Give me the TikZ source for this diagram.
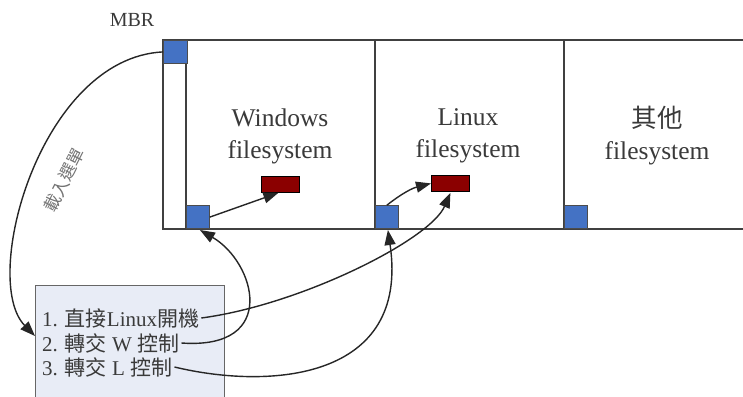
\documentclass[tikz,border=0pt]{standalone}
\usepackage{fontspec}
\setmainfont{Liberation Serif}
\newfontfamily\cjk{Noto Sans CJK TC}
\usetikzlibrary{arrows.meta,calc}
\definecolor{sqblue}{HTML}{4472C4}
\definecolor{sqred}{HTML}{8B0000}
\definecolor{menufill}{HTML}{E8ECF6}
\definecolor{txtgray}{HTML}{3A3A3A}
\begin{document}
\begin{tikzpicture}[x=1pt,y=-1pt,
  part/.style={draw=black!75, line width=2.2pt},
  bsq/.style={draw=black!70, fill=sqblue, line width=0.8pt, minimum width=23pt, minimum height=23pt, inner sep=0pt},
  rbox/.style={draw=black, fill=sqred, line width=0.8pt, minimum width=38pt, minimum height=16pt, inner sep=0pt},
  fslabel/.style={align=center, text=txtgray, font=\fontsize{25.5}{32}\selectfont, inner sep=0pt},
  menuline/.style={anchor=west, inner sep=2pt, text=txtgray, font=\fontsize{21}{24}\selectfont},
  conn/.style={draw=black!85, line width=1.4pt, -{Triangle[length=15pt,width=11pt]}}
]
\clip (0,0) rectangle (743,396);
\fill[white] (0,0) rectangle (743,396);
% disk outline
\draw[part] (743,40) -- (163,40) -- (163,229) -- (743,229);
\draw[part] (186,40) -- (186,229);
\draw[part] (375,40) -- (375,229);
\draw[part] (564,40) -- (564,229);
% MBR
\node[bsq, minimum width=24pt, minimum height=23pt, anchor=north west] (mbr) at (163,40) {};
\node[text=txtgray, font=\fontsize{20}{24}\selectfont, inner sep=0pt] (mbrlabel) at (132,20) {MBR};
% boot sectors
\node[bsq, anchor=south west] (wsq) at (186,229) {};
\node[bsq, anchor=south west] (lsq) at (375,229) {};
\node[bsq, anchor=south west] (osq) at (564,229) {};
% kernels / loaders
\node[rbox, anchor=north west] (wred) at (261,176) {};
\node[rbox, anchor=north west] (lred) at (431,175) {};
% labels
\node[fslabel] (wlab) at (280,136) {Windows\\filesystem};
\node[fslabel] (llab) at (468,136) {Linux\\filesystem};
\node[fslabel] (olab) at (657,136) {{\cjk 其他}\\filesystem};
% menu box
\node[draw=black!60, fill=menufill, line width=1.3pt, minimum width=189pt, minimum height=140pt, anchor=north west, inner sep=0pt] (menu) at (35,285) {};
\node[menuline] (l1) at (40,318) {1. {\cjk 直接}Linux{\cjk 開機}};
\node[menuline] (l2) at (40,343) {2. {\cjk 轉交} W {\cjk 控制}};
\node[menuline] (l3) at (40,367) {3. {\cjk 轉交} L {\cjk 控制}};
\coordinate (mIn) at (35,336);
% rotated label
\node[rotate=63, text=black!55, font=\fontsize{17}{18}\selectfont\cjk, inner sep=0pt] (menulab) at (64,180) {載入選單};
% connectors
\draw[conn] (mbr.west) .. controls (40,58) and (-20,280) .. (mIn);
\draw[conn] (l2.east) .. controls (280,350) and (255,262) .. ($(wsq.south)+(2,1)$);
\draw[conn] (l1.east) .. controls (300,305) and (430,240) .. ($(lred.south)+(0,1)$);
\draw[conn] (l3.east) .. controls (270,390) and (410,380) .. ($(lsq.south)+(1,1)$);
\draw[conn] (wsq.east) -- ($(wred.south)+(-2,0)$);
\draw[conn] (lsq.north) to[bend left=12] (lred.west);
\end{tikzpicture}
\end{document}
